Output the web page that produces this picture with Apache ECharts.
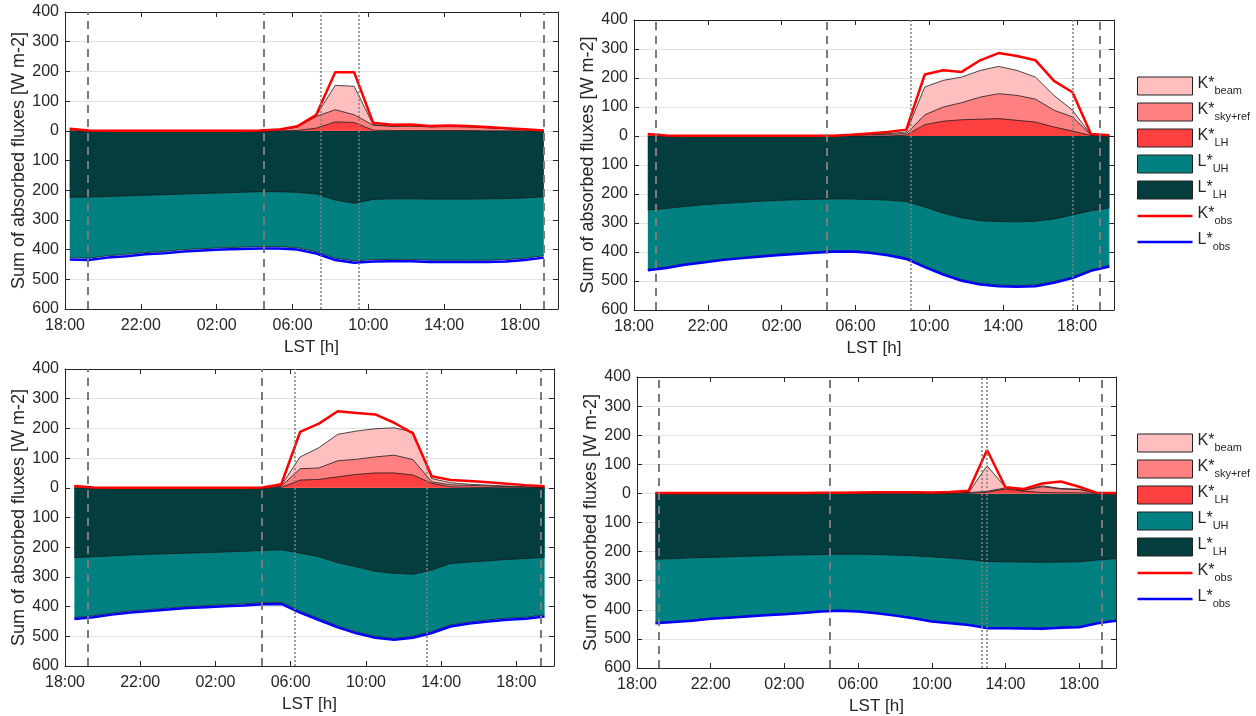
<!DOCTYPE html>
<html>
<head>
<meta charset="utf-8">
<title>Sum of absorbed fluxes</title>
<script src="https://cdn.jsdelivr.net/npm/echarts@6/dist/echarts.min.js"></script>
<style>
html, body { margin: 0; padding: 0; background: #fff; }
#chart { width: 1256px; height: 716px; }
</style>
</head>
<body>
<div id="chart"></div>
<script>
// hours after 18:00 of the first day
const hours1 = [0.25,1.25,2.25,3.25,4.25,5.25,6.25,7.25,8.25,9.25,10.25,11.25,12.25,13.25,14.25,15.25,16.25,17.25,18.25,19.25,20.25,21.25,22.25,23.25,24.25,25.25];
const hours2 = [0.75,1.75,2.75,3.75,4.75,5.75,6.75,7.75,8.75,9.75,10.75,11.75,12.75,13.75,14.75,15.75,16.75,17.75,18.75,19.75,20.75,21.75,22.75,23.75,24.75,25.75];
const hours3 = [0.5,1.5,2.5,3.5,4.5,5.5,6.5,7.5,8.5,9.5,10.5,11.5,12.5,13.5,14.5,15.5,16.5,17.5,18.5,19.5,20.5,21.5,22.5,23.5,24.5,25.5];
const hours4 = [1,2,3,4,5,6,7,8,9,10,11,12,13,14,15,16,17,18,19,20,21,22,23,24,25,26];

// panel 1 (top left)
const kLH1   = [0,0,0,0,0,0,0,0,0,0,0,0,1,9,30,28,2,1,1,1,1,1,0,0,0,0];
const kSky1  = [6,1,0,0,0,0,0,0,0,0,1,3,11,39,41,26,17,14,15,12,13,12,10,7,4,1];
const kBeam1 = [0,0,0,0,0,0,0,0,0,0,0,0,1,3,82,96,2,1,1,1,1,1,1,0,0,0];
const kObs1  = [7,1,0,0,0,0,0,0,0,0,1,4,15,54,197,197,27,20,21,16,18,16,13,9,5,1];
const lLH1   = [224,223,221,219,217,215,213,211,209,207,205,205,207,213,233,244,231,229,229,230,230,230,229,228,226,222];
const lTot1  = [427,429,421,416,410,406,400,397,394,392,390,390,394,407,429,438,434,433,433,436,436,436,436,434,429,421];
const lObs1  = [433,435,427,422,416,412,406,403,400,398,396,396,400,413,435,444,440,439,439,442,442,442,442,440,435,427];
const dash1 = [1.22, 10.5, 25.25];
const dot1 = [13.5, 15.5];

// panel 2 (top right)
const kLH2   = [0,0,0,0,0,0,0,0,0,0,0,0,0,0,3,39,51,56,58,60,54,48,31,17,2,0];
const kSky2  = [6,1,0,0,0,0,0,0,0,0,1,3,5,6,5,34,49,59,76,86,86,79,58,49,1,2];
const kBeam2 = [0,0,0,0,0,0,0,0,0,0,0,0,1,2,6,96,92,88,92,94,86,76,51,23,1,0];
const kObs2  = [7,2,1,1,1,1,1,1,1,1,1,4,9,14,22,212,227,221,261,286,276,261,190,151,7,3];
const lLH2   = [255,250,243,237,233,229,225,222,220,218,217,217,219,221,226,245,266,282,292,295,296,294,286,272,258,248];
const lTot2  = [460,452,441,433,425,419,413,408,404,400,396,395,400,408,420,448,474,495,508,514,516,514,502,486,461,447];
const lObs2  = [463,455,444,436,428,422,416,411,407,403,399,398,403,411,424,452,478,499,512,518,520,518,506,490,465,450];
const dash2 = [1.2, 10.45, 25.25];
const dot2 = [15.0, 23.77];

// panel 3 (bottom left)
const kLH3   = [0,0,0,0,0,0,0,0,0,0,0,1,26,28,37,45,50,50,43,15,3,2,1,0,0,0];
const kSky3  = [5,1,0,0,0,0,0,0,0,0,1,4,38,39,54,51,54,60,52,5,7,6,5,4,2,1];
const kBeam3 = [0,0,0,0,0,0,0,0,0,0,0,3,40,68,89,95,95,92,93,11,7,4,3,2,2,1];
const kObs3  = [6,1,0,0,0,0,0,0,0,0,1,12,188,216,258,252,247,219,183,39,26,23,19,14,9,5];
const lLH3   = [235,232,229,226,224,222,220,218,216,214,211,209,220,232,252,266,281,288,291,277,255,250,246,241,238,234];
const lTot3  = [437,431,422,415,410,405,400,397,394,391,387,386,415,440,465,485,500,507,500,484,462,452,445,439,436,428];
const lObs3  = [442,436,427,420,415,410,405,402,399,396,392,391,420,445,470,490,505,512,505,489,467,457,450,444,441,433];
const dash3 = [1.21, 10.47, 25.27];
const dot3 = [12.24, 19.24];

// panel 4 (bottom right)
const kLH4   = [0,0,0,0,0,0,0,0,0,0,0,0,0,0,0,0,0,0,4,15,8,3,2,2,0,0];
const kSky4  = [1,1,1,1,1,1,1,1,1,1,1,1,1,1,1,1,1,3,3,4,3,20,13,12,0,0];
const kBeam4 = [0,0,0,0,0,0,0,0,0,0,0,0,0,0,0,0,0,0,88,2,0,3,2,0,0,0];
const kObs4  = [1,1,1,1,1,1,1,1,1,2,2,3,4,4,4,3,5,9,149,21,15,34,41,23,1,1];
const lLH4   = [226,224,221,220,218,216,214,212,211,210,209,209,210,212,214,218,222,227,234,235,236,237,236,235,229,224];
const lTot4  = [444,440,436,429,425,421,417,413,409,404,401,404,410,418,427,438,444,450,461,461,462,463,460,458,444,436];
const lObs4  = [446,442,438,431,427,423,419,415,411,406,403,406,412,420,429,440,446,452,463,463,464,465,462,460,446,438];
const dash4 = [1.2, 10.47, 25.23];
const dot4 = [18.73, 18.97];

const panels = [
    { h: hours1, kLH: kLH1, kSky: kSky1, kBeam: kBeam1, kObs: kObs1, lLH: lLH1, lTot: lTot1, lObs: lObs1, dash: dash1, dot: dot1 },
    { h: hours2, kLH: kLH2, kSky: kSky2, kBeam: kBeam2, kObs: kObs2, lLH: lLH2, lTot: lTot2, lObs: lObs2, dash: dash2, dot: dot2 },
    { h: hours3, kLH: kLH3, kSky: kSky3, kBeam: kBeam3, kObs: kObs3, lLH: lLH3, lTot: lTot3, lObs: lObs3, dash: dash3, dot: dot3 },
    { h: hours4, kLH: kLH4, kSky: kSky4, kBeam: kBeam4, kObs: kObs4, lLH: lLH4, lTot: lTot4, lObs: lObs4, dash: dash4, dot: dot4 }
];

const grids = [
    { left: 65, top: 12, width: 493, height: 297 },
    { left: 634, top: 20, width: 480, height: 290 },
    { left: 65, top: 369, width: 489, height: 297 },
    { left: 637, top: 377, width: 479, height: 291 }
];

const FONT = 'Liberation Sans, Arial, sans-serif';
const TXT = '#262626';
const colors = {
    'K*beam': '#ffbfbf',
    'K*sky+ref': '#ff8080',
    'K*LH': '#ff4040',
    'L*UH': '#008080',
    'L*LH': '#033d3d'
};
const legendLabel = {
    'K*beam': '{m|K*}{s|beam}',
    'K*sky+ref': '{m|K*}{s|sky+ref}',
    'K*LH': '{m|K*}{s|LH}',
    'L*UH': '{m|L*}{s|UH}',
    'L*LH': '{m|L*}{s|LH}',
    'K*obs': '{m|K*}{s|obs}',
    'L*obs': '{m|L*}{s|obs}'
};

function pts(h, v, sign) {
    return h.map((x, i) => [x, sign * v[i]]);
}

// running sum of several layers, used to draw the stacked bands
function cum(...layers) {
    return layers[0].map((_, i) => layers.reduce((s, l) => s + l[i], 0));
}

function hourLabel(v) {
    if (v % 4 !== 0) return '';
    const hh = (18 + v) % 24;
    return (hh < 10 ? '0' : '') + hh + ':00';
}

function showImg() {
    const myChart = echarts.init(document.getElementById('chart'));
    const xAxis = [];
    const yAxis = [];
    const series = [];

    grids.forEach((g, i) => {
        xAxis.push({
            type: 'value', gridIndex: i, min: 0, max: 26, interval: 4,
            axisLine: { onZero: false, lineStyle: { color: TXT, width: 1 } },
            axisTick: { inside: true, length: 5, lineStyle: { color: TXT } },
            axisLabel: { formatter: hourLabel, fontSize: 16, color: TXT, fontFamily: FONT, margin: 9 },
            splitLine: { show: false },
            name: 'LST [h]', nameLocation: 'middle', nameGap: 30,
            nameTextStyle: { fontSize: 17, color: TXT, fontFamily: FONT }
        });
        xAxis.push({
            type: 'value', gridIndex: i, min: 0, max: 26, interval: 4, position: 'top',
            axisLine: { onZero: false, lineStyle: { color: TXT, width: 1 } },
            axisTick: { inside: true, length: 5, lineStyle: { color: TXT } },
            axisLabel: { show: false },
            splitLine: { show: false }
        });
        yAxis.push({
            type: 'value', gridIndex: i, min: -600, max: 400, interval: 100,
            axisLine: { show: true, onZero: false, lineStyle: { color: TXT, width: 1 } },
            axisTick: { show: true, inside: true, length: 5, lineStyle: { color: TXT } },
            axisLabel: { formatter: v => Math.abs(v), fontSize: 16, color: TXT, fontFamily: FONT, margin: 6 },
            splitLine: { show: true, lineStyle: { color: '#e2e2e2', width: 1 } },
            name: 'Sum of absorbed fluxes [W m-2]', nameLocation: 'middle', nameGap: 35,
            nameTextStyle: { fontSize: 18, color: TXT, fontFamily: FONT }
        });
        yAxis.push({
            type: 'value', gridIndex: i, min: -600, max: 400, interval: 100, position: 'right',
            axisLine: { show: true, onZero: false, lineStyle: { color: TXT, width: 1 } },
            axisTick: { show: true, inside: true, length: 5, lineStyle: { color: TXT } },
            axisLabel: { show: false },
            splitLine: { show: false }
        });

        const p = panels[i];
        const xi = 2 * i, yi = 2 * i;
        const band = (name, data, z) => ({
            name, type: 'line', xAxisIndex: xi, yAxisIndex: yi,
            data, symbol: 'none', z: z,
            itemStyle: { color: colors[name] },
            lineStyle: { color: '#1a1a1a', width: 0.8 },
            areaStyle: { color: colors[name], opacity: 1, origin: 'auto' }
        });
        // outer band first, inner bands painted over it
        series.push(band('L*UH', pts(p.h, p.lTot, -1), 2));
        series.push(band('L*LH', pts(p.h, p.lLH, -1), 2));
        series.push(band('K*beam', pts(p.h, cum(p.kLH, p.kSky, p.kBeam), 1), 2));
        series.push(band('K*sky+ref', pts(p.h, cum(p.kLH, p.kSky), 1), 2));
        series.push(band('K*LH', pts(p.h, p.kLH, 1), 2));
        series.push({
            name: 'L*obs', type: 'line', xAxisIndex: xi, yAxisIndex: yi,
            data: pts(p.h, p.lObs, -1), symbol: 'none', z: 3,
            itemStyle: { color: '#0000ff' },
            lineStyle: { color: '#0000ff', width: 2.5 }
        });
        const marks = p.dash.map(v => ({ xAxis: v, lineStyle: { type: [8, 6], color: '#7a7a7a', width: 2 } }))
            .concat(p.dot.map(v => ({ xAxis: v, lineStyle: { type: [2, 2], color: '#7f7f7f', width: 1.5 } })));
        series.push({
            name: 'K*obs', type: 'line', xAxisIndex: xi, yAxisIndex: yi,
            data: pts(p.h, p.kObs, 1), symbol: 'none', z: 4,
            itemStyle: { color: '#ff0000' },
            lineStyle: { color: '#ff0000', width: 2.5 },
            markLine: { symbol: 'none', silent: true, animation: false, label: { show: false }, data: marks }
        });
    });

    const lineIcon = 'path://M0,0 H55 V2.5 H0 Z';
    const legendData = ['K*beam', 'K*sky+ref', 'K*LH', 'L*UH', 'L*LH'].map(n => ({
        name: n, icon: 'rect', itemStyle: { color: colors[n], borderColor: '#222', borderWidth: 1 }
    })).concat([
        { name: 'K*obs', icon: lineIcon, itemStyle: { color: '#ff0000', borderWidth: 0 } },
        { name: 'L*obs', icon: lineIcon, itemStyle: { color: '#0000ff', borderWidth: 0 } }
    ]);

    const legendBase = {
        orient: 'vertical', left: 1137, padding: 0, itemWidth: 55, itemHeight: 18, itemGap: 6,
        selectedMode: false, data: legendData,
        formatter: n => legendLabel[n],
        textStyle: {
            color: TXT, fontFamily: FONT,
            rich: {
                m: { fontSize: 16, fontFamily: FONT, color: TXT, verticalAlign: 'top' },
                s: { fontSize: 11, fontFamily: FONT, color: TXT, padding: [9, 0, 0, 0] }
            }
        }
    };

    const option = {
        animation: false,
        backgroundColor: '#ffffff',
        grid: grids,
        xAxis: xAxis,
        yAxis: yAxis,
        legend: [
            Object.assign({}, legendBase, { top: 76 }),
            Object.assign({}, legendBase, { top: 433 })
        ],
        series: series
    };
    myChart.setOption(option);
}

showImg();
</script>
</body>
</html>
